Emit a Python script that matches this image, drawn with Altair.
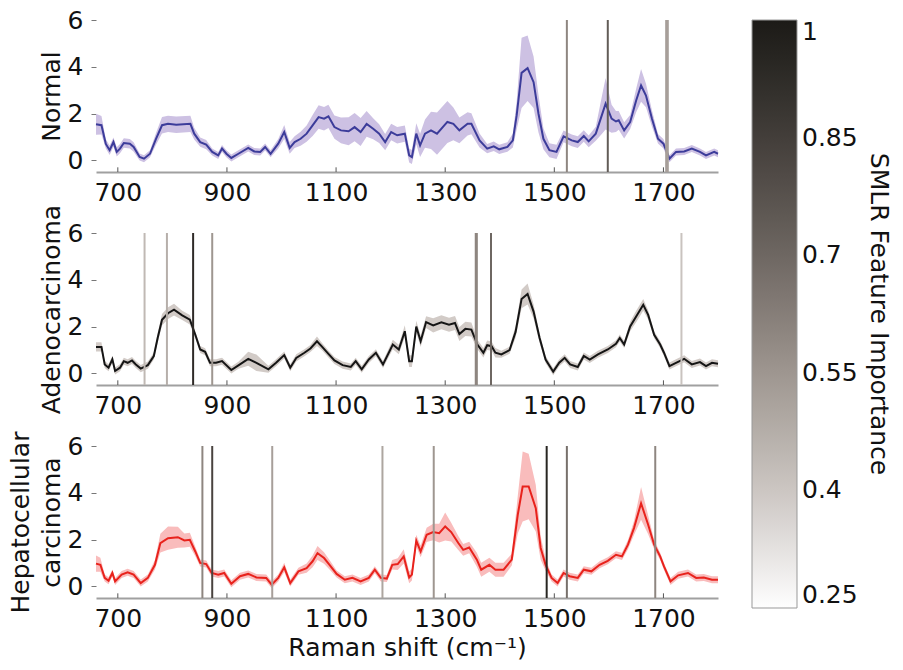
import altair as alt
import pandas as pd

# ---------------- data ----------------
N_x = [660,670,678,685,692,698,704,711,722,729,740,748,759,770,781,792,807,833,840,851,
       862,873,884,891,899,908,921,939,950,961,970,980,994,1005,1015,1024,1035,1046,1057,1068,
       1078,1086,1097,1109,1123,1134,1145,1156,1168,1179,1190,1201,1212,1226,1234,1239,1247,1254,1263,1274,
       1285,1304,1315,1326,1341,1348,1363,1377,1389,1399,1414,1424,1431,1440,1451,1462,1471,1480,1491,1504,
       1517,1532,1543,1554,1563,1576,1587,1594,1605,1613,1618,1628,1639,1650,1659,1668,1679,1690,1700,1711,
       1723,1738,1752,1767,1778,1793,1800]
N_y = [1.54,1.5,0.7,0.43,0.78,0.36,0.5,0.74,0.71,0.57,0.14,0.07,0.28,0.92,1.5,1.56,1.52,1.56,1.14,0.78,
       0.67,0.36,0.21,0.5,0.28,0.1,0.28,0.53,0.38,0.36,0.57,0.28,0.71,1.21,0.53,0.78,0.92,1.14,1.49,1.85,
       1.78,1.88,1.42,1.28,1.24,1.42,1.21,1.56,1.35,1.14,0.78,1.21,1.07,1.14,0.21,0.14,1.14,0.64,1.14,1.28,
       1.14,1.64,1.56,1.28,1.56,1.56,0.85,0.5,0.6,0.47,0.57,0.85,1.92,3.74,3.94,3.34,1.99,0.92,0.43,0.36,
       1.02,0.85,0.78,1.04,0.81,1.14,1.92,2.42,1.78,1.66,1.71,1.28,1.64,2.56,3.2,2.77,1.78,0.92,0.71,0.07,
       0.36,0.38,0.5,0.36,0.21,0.36,0.28]
N_s = [0.45,0.4,0.2,0.2,0.2,0.2,0.2,0.2,0.2,0.2,0.15,0.15,0.15,0.25,0.35,0.35,0.35,0.35,0.25,0.2,
       0.2,0.15,0.15,0.15,0.15,0.15,0.15,0.15,0.15,0.15,0.15,0.15,0.2,0.3,0.25,0.25,0.3,0.35,0.45,0.5,
       0.5,0.5,0.5,0.55,0.6,0.6,0.6,0.55,0.45,0.4,0.35,0.35,0.35,0.35,0.3,0.3,0.45,0.5,0.6,0.8,
       0.9,0.9,0.7,0.55,0.5,0.45,0.3,0.2,0.2,0.2,0.2,0.3,0.6,1.5,1.4,1.1,0.8,0.45,0.3,0.3,
       0.25,0.25,0.25,0.25,0.25,0.3,0.8,1.1,0.6,0.45,0.4,0.35,0.3,0.5,0.7,0.5,0.35,0.2,0.2,0.15,
       0.15,0.15,0.15,0.15,0.15,0.15,0.15]

A_x = [660,670,676,683,690,695,704,711,718,726,733,742,755,766,773,781,792,803,818,832,
       842,851,860,869,880,891,908,921,939,954,976,990,1005,1016,1027,1042,1053,1065,1075,1086,
       1097,1112,1127,1136,1147,1160,1173,1186,1204,1215,1226,1234,1239,1247,1255,1265,1278,1293,1307,1318,
       1326,1337,1348,1359,1370,1377,1385,1392,1403,1418,1429,1440,1451,1462,1473,1484,1498,1509,1519,1529,
       1543,1554,1565,1580,1598,1613,1620,1628,1639,1650,1663,1672,1683,1694,1701,1711,1723,1738,1752,1767,
       1778,1789,1800]
A_y = [1.13,1.13,0.38,0.24,0.6,0.1,0.24,0.52,0.45,0.55,0.38,0.2,0.35,0.74,1.51,2.29,2.57,2.72,2.48,2.29,
       1.65,1.02,0.92,0.45,0.45,0.52,0.14,0.34,0.62,0.45,0.17,0.45,0.78,0.24,0.66,0.88,1.06,1.37,1.12,0.83,
       0.55,0.35,0.27,0.52,0.17,0.59,0.88,0.38,1.23,1.02,1.8,0.52,0.52,2.0,1.37,2.19,2.05,2.18,2.08,2.15,
       1.68,1.9,1.87,1.23,0.88,1.2,1.16,0.88,0.81,0.99,1.77,3.18,3.39,2.64,1.51,0.59,0.07,0.45,0.66,0.38,
       0.27,0.74,0.59,0.81,1.02,1.26,1.51,1.23,2.0,2.43,2.93,2.5,1.65,1.23,0.88,0.31,0.45,0.62,0.38,0.48,
       0.31,0.45,0.41]
A_s = [0.2,0.2,0.15,0.15,0.15,0.15,0.15,0.15,0.15,0.15,0.15,0.15,0.15,0.15,0.2,0.25,0.25,0.25,0.2,0.2,
       0.15,0.15,0.15,0.15,0.15,0.15,0.15,0.15,0.3,0.35,0.15,0.15,0.15,0.15,0.15,0.15,0.15,0.2,0.15,0.15,
       0.15,0.15,0.15,0.15,0.15,0.15,0.15,0.15,0.2,0.2,0.25,0.25,0.25,0.25,0.25,0.25,0.3,0.3,0.3,0.3,
       0.3,0.3,0.3,0.2,0.2,0.2,0.2,0.2,0.15,0.15,0.25,0.4,0.45,0.3,0.2,0.15,0.15,0.15,0.15,0.15,
       0.15,0.15,0.15,0.15,0.15,0.15,0.15,0.15,0.2,0.25,0.25,0.2,0.15,0.15,0.15,0.15,0.15,0.15,0.15,0.15,
       0.15,0.15,0.15]

H_x = [660,668,676,683,690,695,707,718,729,742,755,768,778,792,810,822,832,842,851,862,
       872,884,895,908,924,939,954,972,982,994,1005,1016,1031,1046,1057,1066,1078,1088,1101,1116,
       1130,1145,1160,1171,1182,1193,1203,1213,1224,1234,1239,1247,1255,1266,1278,1289,1300,1311,1324,1333,
       1344,1358,1366,1381,1392,1407,1422,1433,1442,1453,1466,1475,1484,1495,1506,1517,1528,1543,1554,1568,
       1583,1598,1613,1624,1635,1646,1659,1672,1683,1694,1701,1713,1727,1745,1760,1774,1789,1800]
H_y = [0.97,0.92,0.36,0.24,0.57,0.21,0.5,0.6,0.5,0.14,0.36,0.92,1.85,2.06,2.1,1.96,1.99,1.49,1.0,0.95,
       0.57,0.5,0.57,0.11,0.43,0.53,0.38,0.36,0.07,0.36,0.81,0.14,0.64,0.78,1.07,1.42,1.21,0.92,0.53,0.28,
       0.36,0.21,0.36,0.71,0.36,0.33,0.92,0.95,1.28,0.38,0.5,1.95,1.49,2.2,2.32,2.27,2.56,2.32,1.85,1.56,
       1.66,1.14,0.71,0.92,0.71,0.71,1.14,3.06,4.27,4.27,3.34,1.64,0.92,0.36,0.14,0.57,0.43,0.36,0.71,0.64,
       0.92,1.09,1.35,1.28,1.78,2.49,3.55,2.63,1.78,1.28,0.85,0.21,0.47,0.57,0.36,0.38,0.28,0.28]
H_s = [0.35,0.3,0.15,0.15,0.15,0.15,0.15,0.15,0.15,0.15,0.15,0.2,0.4,0.5,0.45,0.3,0.3,0.2,0.15,0.15,
       0.15,0.15,0.15,0.15,0.15,0.15,0.15,0.15,0.15,0.15,0.2,0.15,0.15,0.2,0.25,0.3,0.25,0.2,0.15,0.15,
       0.15,0.15,0.15,0.15,0.15,0.15,0.2,0.25,0.3,0.25,0.25,0.25,0.25,0.3,0.35,0.4,0.6,0.4,0.3,0.25,
       0.25,0.3,0.3,0.3,0.3,0.3,0.25,0.8,1.5,1.4,1.0,0.5,0.25,0.15,0.15,0.15,0.15,0.15,0.15,0.15,
       0.15,0.15,0.15,0.15,0.2,0.3,0.7,0.4,0.2,0.15,0.15,0.15,0.15,0.15,0.15,0.15,0.15,0.15]

# SMLR selected features (Raman shift, importance)
N_rule_x = [1523, 1598, 1705, 1708]
N_rule_imp = [0.6, 0.74, 0.52, 0.52]
A_rule_x = [749, 790, 838, 873, 1356, 1358, 1384, 1733]
A_rule_imp = [0.44, 0.47, 0.93, 0.55, 0.6, 0.6, 0.7, 0.41]
H_rule_x = [855, 873, 983, 1185, 1279, 1486, 1523, 1685]
H_rule_imp = [0.6, 0.83, 0.52, 0.5, 0.55, 0.95, 0.67, 0.6]

x_ticks = [700, 900, 1100, 1300, 1500, 1700]
y_ticks = [0, 2, 4, 6]
cbar_ticks = [0.25, 0.4, 0.55, 0.7, 0.85, 1]
cbar_colors = ["#fefefe", "#ccc6c2", "#9e9690", "#6e6762", "#433e3a", "#1c1a17"]

FONT = "DejaVu Sans"
FS = 25

for a, b, c in [(N_x, N_y, N_s), (A_x, A_y, A_s), (H_x, H_y, H_s)]:
    assert len(a) == len(b) == len(c)

xscale = alt.Scale(domain=[660, 1800], nice=False, zero=False)
yscale = alt.Scale(domain=[-0.5, 6], nice=False, zero=False)
cscale = alt.Scale(domain=cbar_ticks, range=cbar_colors)


def panel(xs, ys, ss, rx, rimp, line_color, band_color, ytitle, xtitle):
    df = pd.DataFrame({"x": xs, "y": ys,
                       "lo": [v - s for v, s in zip(ys, ss)],
                       "hi": [v + s for v, s in zip(ys, ss)]})
    rdf = pd.DataFrame({"x": rx, "imp": rimp})
    tdf = pd.DataFrame({"x": x_ticks})

    xaxis = alt.Axis(values=x_ticks, format="d", ticks=False, grid=False,
                     domainColor="#a0a0a0", domainWidth=2, labelFont=FONT, labelFontSize=FS,
                     labelColor="#111", labelPadding=8, title=xtitle if xtitle else None,
                     titleFont=FONT, titleFontSize=FS, titleFontWeight="normal",
                     titleColor="#111", titlePadding=4)
    yaxis = alt.Axis(values=y_ticks, domain=False, ticks=True, tickSize=5, tickColor="#777",
                     grid=False, labelFont=FONT, labelFontSize=FS, labelColor="#111",
                     labelPadding=8, title=ytitle, titleFont=FONT, titleFontSize=FS,
                     titleFontWeight="normal", titleColor="#111", titlePadding=3,
                     titleLineHeight=31)

    band = alt.Chart(df).mark_area(color=band_color, opacity=1).encode(
        x=alt.X("x:Q", scale=xscale, axis=xaxis),
        y=alt.Y("lo:Q", scale=yscale, axis=yaxis),
        y2="hi:Q",
    )
    line = alt.Chart(df).mark_line(color=line_color, strokeWidth=2).encode(
        x=alt.X("x:Q", scale=xscale, axis=xaxis),
        y=alt.Y("y:Q", scale=yscale, axis=yaxis),
    )
    rules = alt.Chart(rdf).mark_rule(strokeWidth=2).encode(
        x=alt.X("x:Q", scale=xscale, axis=xaxis),
        y=alt.datum(6, scale=yscale, axis=yaxis),
        y2=alt.datum(-0.5),
        color=alt.Color("imp:Q", scale=cscale, legend=alt.Legend(
            title="SMLR Feature Importance", orient="right", direction="vertical",
            gradientLength=588, gradientThickness=45, values=cbar_ticks, format=".2~f",
            labelFont=FONT, labelFontSize=FS, labelColor="#111", labelOffset=5,
            titleFont=FONT, titleFontSize=FS, titleFontWeight="normal", titleColor="#111",
            titleOrient="right", titleAnchor="middle", titlePadding=8, titleLimit=800,
            gradientStrokeColor="#999", gradientStrokeWidth=1, offset=30)),
    )
    ticks = alt.Chart(tdf).mark_rule(color="#555", strokeWidth=1).encode(
        x=alt.X("x:Q", scale=xscale, axis=xaxis),
        y=alt.datum(-0.5),
        y2=alt.datum(-0.3),
    )
    return alt.layer(band, line, ticks, rules).properties(width=622, height=152)


p1 = panel(N_x, N_y, N_s, N_rule_x, N_rule_imp, "#3c3c9a", "#cdc1e3", "Normal", None)
p2 = panel(A_x, A_y, A_s, A_rule_x, A_rule_imp, "#151515", "#d2cbc7", "Adenocarcinoma", None)
p3 = panel(H_x, H_y, H_s, H_rule_x, H_rule_imp, "#e8221c", "#f9bcbc",
           ["Hepatocellular", "carcinoma"], "Raman shift (cm\u207b\u00b9)")

chart = alt.vconcat(p1, p2, p3, spacing=61, bounds="flush").properties(
    padding={"left": 8, "top": 8, "right": 5, "bottom": 5},
    background="white",
).configure_view(stroke=None)

chart.save("out.html", embed_options={"renderer": "svg", "actions": False})
